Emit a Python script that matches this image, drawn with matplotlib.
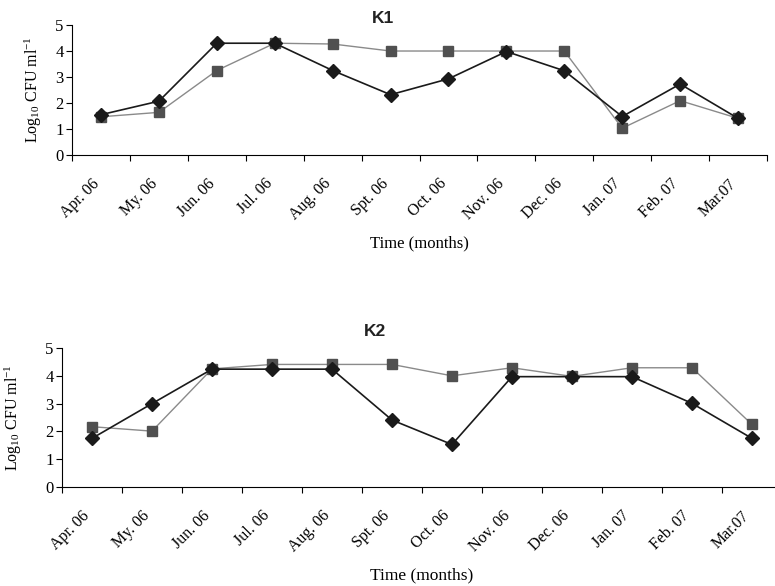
import matplotlib
matplotlib.use('Agg')
import matplotlib.pyplot as plt
import numpy as np

plt.rcParams['font.family'] = ['Liberation Serif', 'DejaVu Serif']
plt.rcParams['mathtext.default'] = 'regular'

# months on the x axis
months = ['Apr. 06', 'My. 06', 'Jun. 06', 'Jul. 06', 'Aug. 06', 'Spt. 06',
          'Oct. 06', 'Nov. 06', 'Dec. 06', 'Jan. 07', 'Feb. 07', 'Mar.07']

# K1 values (log10 CFU/ml)
k1_diamond = [1.55, 2.07, 4.3, 4.3, 3.25, 2.32, 2.93, 3.98, 3.24, 1.48, 2.73, 1.41]
k1_square = [1.47, 1.64, 3.25, 4.3, 4.27, 4.0, 4.0, 4.0, 4.0, 1.03, 2.09, 1.41]

# K2 values
k2_diamond = [1.75, 3.0, 4.24, 4.24, 4.24, 2.41, 1.53, 3.97, 3.97, 3.97, 3.01, 1.75]
k2_square = [2.17, 2.01, 4.25, 4.41, 4.41, 4.41, 4.0, 4.29, 3.98, 4.29, 4.29, 2.25]

fig = plt.figure(figsize=(7.75, 5.86), dpi=100)
ax1 = fig.add_axes([0.0929, 0.7355, 0.8968, 0.2218])
ax2 = fig.add_axes([0.080, 0.1689, 0.929, 0.2372])

x = np.arange(len(months))


def draw(ax, sq, dm, title, tx, ty, ylab_x, xlab_y, xfs):
    ax.plot(x, sq, color='#8a8a8a', lw=1.0, marker='s', ms=7,
            mfc='#505050', mec='#505050', zorder=2)
    ax.plot(x, dm, color='#1a1a1a', lw=1.2, marker='D', ms=7.5,
            mfc='#1a1a1a', mec='#1a1a1a', zorder=3)
    ax.set_xlim(-0.5, len(months) - 0.5)
    ax.set_ylim(0, 5)
    ax.set_yticks(range(6))
    ax.set_xticks(np.arange(-0.5, len(months) + 0.5, 1))
    ax.set_xticklabels([])
    # labels sit a little left of the category centre, like the original
    ax.set_xticks(x - 0.17, minor=True)
    ax.set_xticklabels(months, minor=True, rotation=45, ha='right',
                       rotation_mode='anchor', fontsize=11.5)
    ax.tick_params(axis='x', which='minor', length=0, pad=15)
    ax.tick_params(axis='x', which='major', length=4, direction='out')
    ax.tick_params(axis='y', length=4, labelsize=12, pad=2)
    for s in ['top', 'right']:
        ax.spines[s].set_visible(False)
    ax.set_ylabel('Log$_{10}$ CFU ml$^{-1}$', fontsize=11.5)
    ax.yaxis.set_label_coords(ylab_x, 0.5)
    ax.set_xlabel('Time (months)', fontsize=xfs)
    ax.xaxis.set_label_coords(0.5, xlab_y)
    ax.patch.set_alpha(0)
    ax.text(tx, ty, title, transform=ax.transAxes, ha='center', va='center',
            fontsize=12.5, fontweight='bold', color='#222222',
            family=['Liberation Sans', 'DejaVu Sans'])


draw(ax1, k1_square, k1_diamond, 'K1', 0.447, 1.054, -0.04, -0.62, 12)
draw(ax2, k2_square, k2_diamond, 'K2', 0.435, 1.122, -0.053, -0.58, 12.5)

fig.savefig('out.png', dpi=100)
